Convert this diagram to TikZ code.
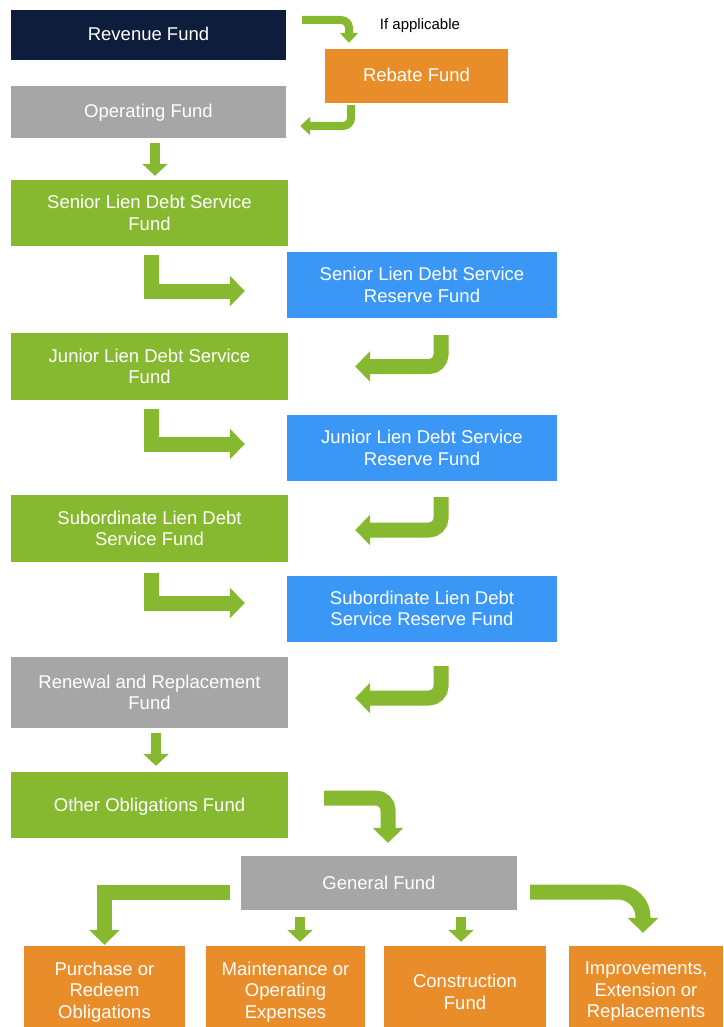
\documentclass[tikz,border=0pt]{standalone}
\usepackage{fontspec}
\setmainfont{Liberation Sans}
\usetikzlibrary{calc,arrows.meta}
\definecolor{navy}{HTML}{0F1D3C}
\definecolor{orange}{HTML}{E98D2B}
\definecolor{grey}{HTML}{A6A6A6}
\definecolor{green}{HTML}{86B92F}
\definecolor{blue}{HTML}{3A97F6}
\tikzset{
  fund/.style={draw=none, text=white, align=center, inner sep=0pt, font=\fontsize{18.5}{21.5}\selectfont},
  oneline/.style={text height=12pt, text depth=0pt},
  flow/.style={draw=green, line width=15pt, -{Triangle[width=30pt,length=15pt]}},
  flowsm/.style={draw=green, line width=10pt, -{Triangle[width=25pt,length=12pt]}},
  flowtop/.style={draw=green, line width=8pt, rounded corners=8pt, -{Triangle[width=18pt,length=10pt]}},
  hook/.style={flow, rounded corners=12pt},
  lab/.style={text=black, font=\fontsize{15}{18}\selectfont},
}
\begin{document}
\begin{tikzpicture}[x=1pt,y=-1pt]
  \useasboundingbox (0,0) rectangle (723,1027);

  % top of the cascade
  \node[fund,oneline,fill=navy,minimum width=275pt,minimum height=50pt] (rev) at (148.5,35) {Revenue Fund};
  \node[fund,oneline,fill=orange,minimum width=183pt,minimum height=54pt] (reb) at (416.5,76) {Rebate Fund};
  \node[lab] (appl) at (420,26) {If applicable};
  \node[fund,oneline,fill=grey,minimum width=275pt,minimum height=52pt] (op) at (148.5,112) {Operating Fund};

  % debt service and reserve funds
  \node[fund,fill=green,minimum width=277pt,minimum height=66pt] (sld) at (149.5,213) {Senior Lien Debt Service\\Fund};
  \node[fund,fill=blue,minimum width=270pt,minimum height=66pt] (sldr) at (422,285) {Senior Lien Debt Service\\Reserve Fund};
  \node[fund,fill=green,minimum width=277pt,minimum height=67pt] (jld) at (149.5,366.5) {Junior Lien Debt Service\\Fund};
  \node[fund,fill=blue,minimum width=270pt,minimum height=66pt] (jldr) at (422,448) {Junior Lien Debt Service\\Reserve Fund};
  \node[fund,fill=green,minimum width=277pt,minimum height=67pt] (subd) at (149.5,528.5) {Subordinate Lien Debt\\Service Fund};
  \node[fund,fill=blue,minimum width=270pt,minimum height=66pt] (subdr) at (422,608.5) {Subordinate Lien Debt\\Service Reserve Fund};
  \node[fund,fill=grey,minimum width=277pt,minimum height=71pt] (ren) at (149.5,692.5) {Renewal and Replacement\\Fund};
  \node[fund,oneline,fill=green,minimum width=277pt,minimum height=66pt] (oth) at (149.5,805) {Other Obligations Fund};
  \node[fund,oneline,fill=grey,minimum width=276pt,minimum height=54pt] (gen) at (379,883) {General Fund};

  % uses of the general fund (boxes run past the bottom edge)
  \node[fund,fill=orange,minimum width=161pt,minimum height=92pt] (pur) at (104.5,992) {Purchase or\\Redeem\\Obligations};
  \node[fund,fill=orange,minimum width=159pt,minimum height=92pt] (mai) at (285.5,992) {Maintenance or\\Operating\\Expenses};
  \node[fund,fill=orange,minimum width=162pt,minimum height=92pt] (con) at (465,992) {Construction\\Fund};
  \node[fund,fill=orange,minimum width=154pt,minimum height=92pt] (imp) at (646,992) {Improvements,\\Extension or\\Replacements};

  % arrows
  \draw[flowtop] ($(rev.east)+(16,-15)$) -| ($(reb.north)+(-67.5,-6)$);
  \draw[flowtop] ($(reb.south)+(-65.5,2)$) |- ($(op.east)+(14,14)$);
  \draw[flowsm] ($(op.south)+(6.5,5)$) -- ($(sld.north)+(5.5,-4)$);

  \draw[flow] ($(sld.south)+(1.5,9)$) |- ($(sldr.west)+(-42,6)$);
  \draw[hook] ($(sldr.south)+(19,17)$) |- ($(jld.east)+(67,0)$);
  \draw[flow] ($(jld.south)+(1.5,9)$) |- ($(jldr.west)+(-42,-4)$);
  \draw[hook] ($(jldr.south)+(19,16)$) |- ($(subd.east)+(67,1.5)$);
  \draw[flow] ($(subd.south)+(1.5,11)$) |- ($(subdr.west)+(-42,-5.5)$);
  \draw[hook] ($(subdr.south)+(19,24.5)$) |- ($(ren.east)+(67,5.5)$);

  \draw[flowsm] ($(ren.south)+(6.5,5)$) -- ($(oth.north)+(6.5,-6)$);
  \draw[hook] ($(oth.east)+(36,-7)$) -| ($(gen.north)+(9,-13)$);

  \draw[flow] ($(gen.west)+(-11,9)$) -| ($(pur.north)+(0,-1)$);
  \draw[flowsm] ($(gen.south)+(-79,7)$) -- ($(mai.north)+(14.5,-4)$);
  \draw[flowsm] ($(gen.south)+(82,7)$) -- ($(con.north)+(-4,-4)$);
  \draw[flow, rounded corners=25pt] ($(gen.east)+(13,9)$) -| ($(imp.north)+(-3,-13)$);
\end{tikzpicture}
\end{document}
